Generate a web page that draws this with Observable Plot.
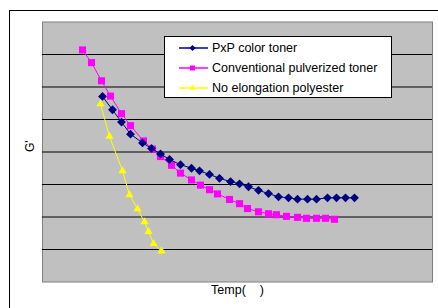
<!DOCTYPE html>
<html>
<head>
<meta charset="utf-8">
<script src="https://cdn.jsdelivr.net/npm/d3@7"></script>
<script src="https://cdn.jsdelivr.net/npm/@observablehq/plot@0.6"></script>
<style>
  html, body { margin: 0; padding: 0; background: #fff; }
  body { width: 438px; height: 308px; position: relative; overflow: hidden; font-family: "Liberation Sans", Arial, sans-serif; }
  #outer { position: absolute; left: 9px; top: 10px; right: -5px; bottom: -5px; border-left: 1.5px solid #000; border-top: 1.5px solid #000; }
  #chart { position: absolute; left: 0; top: 0; }
  #legend { position: absolute; left: 164px; top: 36px; width: 226px; height: 60px; background: #fff; border: 1px solid #000; }
  .row { position: absolute; left: 0; height: 16px; display: flex; align-items: center; font-size: 12.5px; color: #000; white-space: nowrap; }
  .row svg { margin-left: 13px; margin-right: 3px; }
</style>
</head>
<body>
<div id="outer"></div>
<div id="chart"></div>
<div id="legend"></div>
<script>
// Series names
const seriesNames = ["PxP color toner", "Conventional pulverized toner", "No elongation polyester"];
const seriesColors = ["#000080", "#FF00FF", "#FFFF00"];

// PxP color toner
const tempPxP = [90, 95, 99.5, 104, 110, 114.5, 119, 123.5, 129, 134.5, 138.5, 143.5, 148.5, 154, 158.5, 163, 168, 173, 178, 183, 187.5, 192.5, 197, 202.5, 207, 211.5, 216];
const gPxP = [5.71, 5.30, 4.92, 4.55, 4.28, 4.11, 3.94, 3.77, 3.61, 3.50, 3.42, 3.31, 3.19, 3.09, 3.02, 2.93, 2.82, 2.72, 2.62, 2.59, 2.55, 2.55, 2.55, 2.59, 2.59, 2.59, 2.59];

// Conventional pulverized toner
const tempConv = [80, 84.5, 89.5, 94, 99.5, 104, 110.5, 115, 119, 124.5, 129, 134.5, 139, 143.5, 147.5, 153.5, 158.5, 162.5, 168, 173, 177, 182, 187.5, 192, 197, 201.5, 206];
const gConv = [7.14, 6.75, 6.19, 5.72, 5.18, 4.81, 4.34, 4.09, 3.86, 3.59, 3.35, 3.14, 2.98, 2.84, 2.71, 2.54, 2.41, 2.26, 2.16, 2.10, 2.07, 2.02, 1.99, 1.96, 1.96, 1.96, 1.93];

// No elongation polyester
const tempNoElong = [89, 93.5, 100, 103.5, 107.5, 111, 113, 115.5, 119.5];
const gNoElong = [5.48, 4.48, 3.42, 2.68, 2.25, 1.85, 1.55, 1.18, 0.95];

// Axis
const gridValues = [1, 2, 3, 4, 5, 6, 7];
const xLabel = "Temp(    )";
const yLabel = "G'";

const rows = (t, g, s) => t.map((v, i) => ({temp: v, g: g[i], series: s}));
const dataPxP = rows(tempPxP, gPxP, seriesNames[0]);
const dataConv = rows(tempConv, gConv, seriesNames[1]);
const dataNo = rows(tempNoElong, gNoElong, seriesNames[2]);

const chart = Plot.plot({
  width: 438,
  height: 308,
  marginLeft: 42,
  marginRight: 6,
  marginTop: 21.5,
  marginBottom: 26.5,
  style: {fontFamily: "'Liberation Sans', Arial, sans-serif", fontSize: "12px", background: "transparent", overflow: "visible"},
  x: {domain: [60, 255], axis: null},
  y: {domain: [0, 8], axis: null},
  marks: [
    Plot.frame({fill: "#C0C0C0", stroke: "#808080", strokeWidth: 1}),
    Plot.ruleY(gridValues, {stroke: "#000", strokeWidth: 1}),
    Plot.line(dataNo, {x: "temp", y: "g", stroke: seriesColors[2], strokeWidth: 1}),
    Plot.dot(dataNo, {x: "temp", y: "g", symbol: "triangle", r: 3, fill: seriesColors[2], stroke: "none"}),
    Plot.line(dataConv, {x: "temp", y: "g", stroke: seriesColors[1], strokeWidth: 1}),
    Plot.dot(dataConv, {x: "temp", y: "g", symbol: "square", r: 4, fill: seriesColors[1], stroke: "none"}),
    Plot.line(dataPxP, {x: "temp", y: "g", stroke: seriesColors[0], strokeWidth: 1}),
    Plot.dot(dataPxP, {x: "temp", y: "g", symbol: "diamond2", r: 4, fill: seriesColors[0], stroke: "none"}),
    Plot.text([xLabel], {frameAnchor: "bottom", dy: 12, text: d => d, fontSize: 12.5, fill: "#000"}),
    Plot.text([yLabel], {frameAnchor: "left", dx: -12, rotate: -90, text: d => d, fontSize: 12, fill: "#000"})
  ]
});
document.getElementById("chart").appendChild(chart);

// Legend
const legend = document.getElementById("legend");
const symbolsL = ["diamond2", "square", "triangle"];
const radiiL = [2.8, 2.8, 2.3];
const symMap = {diamond2: d3.symbolDiamond2, square: d3.symbolSquare, triangle: d3.symbolTriangle};
seriesNames.forEach((name, i) => {
  const row = document.createElement("div");
  row.className = "row";
  row.style.top = (2.5 + i * 20) + "px";
  const svg = d3.create("svg").attr("width", 31).attr("height", 16);
  svg.append("line").attr("x1", 1).attr("x2", 30).attr("y1", 8).attr("y2", 8).attr("stroke", seriesColors[i]).attr("stroke-width", 1.5);
  svg.append("path").attr("transform", "translate(14.5,8)")
    .attr("d", d3.symbol(symMap[symbolsL[i]], Math.PI * radiiL[i] * radiiL[i])())
    .attr("fill", seriesColors[i]);
  row.appendChild(svg.node());
  const span = document.createElement("span");
  span.textContent = name;
  row.appendChild(span);
  legend.appendChild(row);
});
</script>
</body>
</html>
